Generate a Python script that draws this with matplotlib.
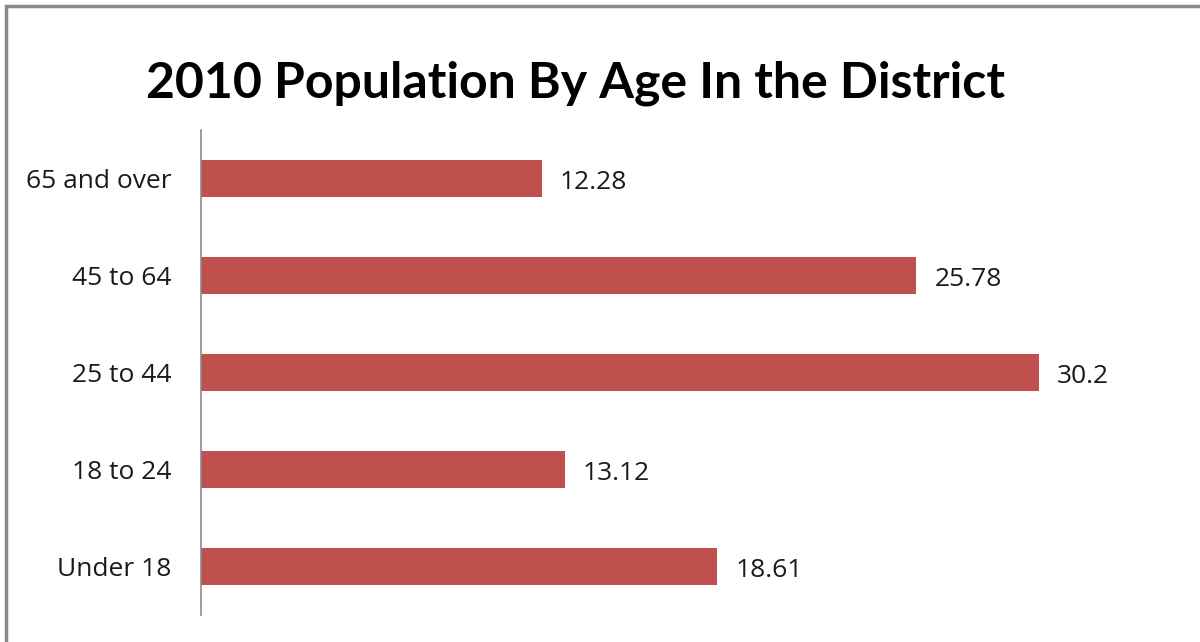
import matplotlib.pyplot as plt
from matplotlib.patches import Rectangle

# Dados do gráfico
categorias = ['Under 18', '18 to 24', '25 to 44', '45 to 64', '65 and over']
valores = [18.61, 13.12, 30.2, 25.78, 12.28]
rotulos = ['18.61', '13.12', '30.2', '25.78', '12.28']

plt.rcParams['font.family'] = ['Open Sans', 'DejaVu Sans']

fig = plt.figure(figsize=(12, 6.42), dpi=100)
ax = fig.add_axes([0.1675, 0.042, 0.8092, 0.7555])

posicoes = range(len(categorias))
barras = ax.barh(posicoes, valores, height=0.39, color='#C0504D')

for barra, texto in zip(barras, rotulos):
    ax.annotate(texto, (barra.get_width(), barra.get_y() + barra.get_height() / 2),
                xytext=(13, -3), textcoords='offset points',
                va='center', ha='left', fontsize=19, color='#1a1a1a')

ax.set_yticks(list(posicoes))
ax.set_yticklabels(categorias, fontsize=19, color='#1a1a1a', va='center_baseline')
ax.tick_params(axis='y', length=0, pad=21)
ax.set_xlim(0, 35)
ax.set_ylim(-0.5, len(categorias) - 0.5)
ax.set_xticks([])

for lado in ['top', 'right', 'bottom']:
    ax.spines[lado].set_visible(False)
ax.spines['left'].set_color('#8c8c8c')
ax.spines['left'].set_linewidth(1.2)

fig.text(0.4796, 0.871, '2010 Population By Age In the District', ha='center', va='center',
         fontsize=36, fontweight='bold', color='black', family=['Lato', 'DejaVu Sans'])

# Moldura cinza do gráfico (cortada à direita e embaixo)
fig.patches.append(Rectangle((6 / 1200, -0.1), 1.2, 1 - 6 / 642 + 0.1,
                             transform=fig.transFigure, fill=False,
                             edgecolor='#8a8a8a', linewidth=2.5))

fig.savefig('out.png', dpi=100)
